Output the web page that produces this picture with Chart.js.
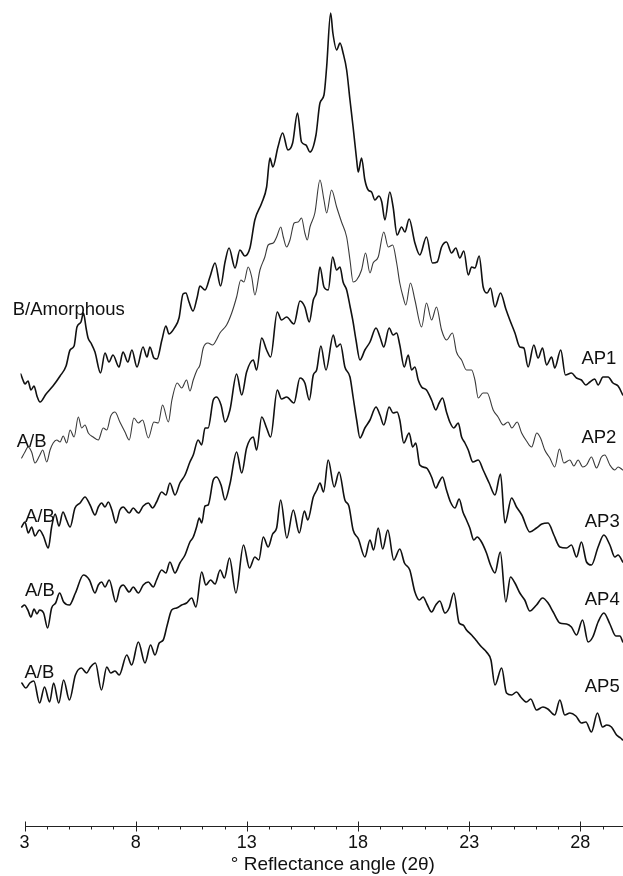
<!DOCTYPE html>
<html>
<head>
<meta charset="utf-8">
<title>XRD patterns AP1-AP5</title>
<script src="https://cdn.jsdelivr.net/npm/chart.js@4.4.0/dist/chart.umd.min.js"></script>
<style>
  html, body { margin: 0; padding: 0; background: #fff; }
  canvas { display: block; }
</style>
</head>
<body>
<canvas id="xrd" width="623" height="876"></canvas>
<script>
// x = reflectance angle (2 theta, degrees), y = intensity (arbitrary units, traces stacked)
const ap1Angle = [2.83,2.93,3.02,3.16,3.29,3.43,3.56,3.70,3.97,4.28,4.60,4.87,5.05,5.23,5.36,5.54,5.65,5.77,5.86,5.99,6.17,6.42,6.62,6.80,6.98,7.25,7.43,7.65,7.83,8.06,8.33,8.51,8.64,8.82,8.96,9.18,9.36,9.50,9.77,9.95,10.13,10.26,10.40,10.58,10.76,10.89,11.12,11.34,11.57,11.82,12.02,12.20,12.47,12.69,12.91,13.14,13.36,13.67,13.89,14.04,14.17,14.40,14.61,14.85,15.06,15.28,15.46,15.66,15.84,16.11,16.29,16.47,16.59,16.77,16.87,17.04,17.19,17.33,17.49,17.64,17.78,17.94,18.01,18.16,18.31,18.46,18.61,18.76,18.94,19.07,19.21,19.43,19.58,19.76,19.96,20.11,20.30,20.56,20.78,21.08,21.35,21.56,21.76,21.98,22.21,22.40,22.58,22.76,22.96,23.11,23.26,23.45,23.63,23.81,23.96,24.16,24.41,24.65,24.83,25.06,25.28,25.46,25.65,25.91,26.10,26.30,26.48,26.71,26.85,27.12,27.33,27.60,27.83,28.05,28.25,28.43,28.65,28.80,29.02,29.25,29.47,29.70,29.91];
const ap1Int = [452,446,442,445,436,440,430,424,432,440,450,460,476,480,499,504,513,498,488,483,474,453,473,464,471,459,474,464,476,459,479,469,479,468,467,486,500,492,499,508,532,533,524,515,528,540,536,549,563,540,564,578,558,576,570,578,606,623,639,668,659,679,693,676,683,713,684,681,674,691,723,731,759,813,793,776,783,773,756,726,699,666,654,668,646,636,634,626,630,624,606,634,619,591,599,594,607,583,571,589,563,564,579,584,573,578,568,575,551,559,558,570,539,533,538,519,533,517,506,493,479,478,459,481,468,478,461,469,458,476,451,453,448,446,441,444,447,441,449,449,443,440,431];

const ap2Angle = [2.87,3.02,3.16,3.32,3.47,3.67,3.82,4.00,4.15,4.29,4.45,4.60,4.74,4.90,5.05,5.23,5.42,5.57,5.72,5.87,6.09,6.32,6.54,6.70,6.88,7.07,7.29,7.52,7.71,7.92,8.12,8.31,8.57,8.82,9.02,9.21,9.47,9.63,9.87,10.07,10.29,10.44,10.59,10.76,10.89,11.04,11.25,11.46,11.63,11.79,12.09,12.32,12.54,12.73,12.87,13.06,13.22,13.36,13.59,13.81,13.96,14.19,14.34,14.53,14.64,14.79,14.94,15.13,15.31,15.46,15.61,15.72,15.84,16.06,16.29,16.47,16.59,16.81,17.04,17.26,17.49,17.64,17.78,17.94,18.16,18.34,18.54,18.68,18.91,19.16,19.36,19.56,19.74,19.88,20.03,20.15,20.36,20.56,20.86,21.08,21.31,21.53,21.76,21.98,22.25,22.43,22.66,22.88,23.11,23.26,23.41,23.62,23.81,24.08,24.30,24.53,24.75,24.92,25.16,25.36,25.58,25.81,26.04,26.21,26.40,26.63,26.85,27.06,27.26,27.53,27.71,27.90,28.11,28.28,28.50,28.73,28.95,29.10,29.33,29.55,29.70,29.91];
const ap2Int = [368,374,379,374,363,370,376,364,376,383,386,384,390,383,396,389,409,398,401,393,389,386,398,396,410,414,404,394,386,408,403,406,388,404,403,421,404,426,443,438,446,435,446,456,461,478,483,481,486,493,501,513,529,546,544,559,549,531,556,569,581,583,589,599,589,579,586,603,604,608,593,586,599,613,646,626,613,636,619,604,589,566,544,546,556,573,553,563,569,594,579,581,563,543,529,521,543,526,499,523,506,519,496,486,493,474,466,456,456,446,428,433,433,416,409,401,404,398,404,393,385,379,393,388,376,368,359,377,363,366,360,366,359,361,369,358,369,371,361,356,359,356];

const ap3Angle = [2.87,3.02,3.17,3.32,3.47,3.67,3.85,4.07,4.22,4.38,4.55,4.73,4.89,5.05,5.27,5.50,5.72,5.95,6.17,6.32,6.47,6.62,6.77,6.93,7.11,7.29,7.44,7.71,7.89,8.12,8.34,8.57,8.76,8.94,9.17,9.36,9.54,9.77,9.99,10.22,10.44,10.59,10.81,10.97,11.12,11.26,11.49,11.64,11.84,12.02,12.24,12.54,12.77,12.99,13.29,13.44,13.67,13.89,14.07,14.37,14.56,14.79,15.12,15.39,15.61,15.81,15.99,16.14,16.29,16.47,16.66,16.86,17.04,17.19,17.33,17.49,17.64,17.78,17.91,18.09,18.31,18.54,18.81,18.99,19.16,19.40,19.58,19.74,19.88,20.08,20.26,20.41,20.56,20.71,20.86,21.08,21.31,21.50,21.65,21.80,21.98,22.13,22.31,22.51,22.66,22.81,22.96,23.17,23.41,23.63,23.90,24.16,24.41,24.61,24.91,25.13,25.37,25.73,26.03,26.27,26.55,26.81,27.08,27.38,27.60,27.83,28.05,28.28,28.50,28.80,29.06,29.33,29.55,29.70,29.91];
const ap3Int = [299,304,293,299,290,296,290,278,299,312,300,314,306,299,318,323,329,321,311,319,323,319,324,316,303,316,319,313,318,313,320,323,318,324,334,331,343,331,343,351,364,371,386,381,398,398,426,429,421,404,416,452,431,454,466,456,488,476,469,514,506,509,502,525,519,504,526,534,559,539,536,569,556,559,544,536,520,504,486,466,476,484,498,489,479,498,491,493,481,459,471,456,459,446,439,436,426,416,423,428,414,404,398,403,389,383,376,364,366,356,343,331,352,303,328,319,311,294,298,302,303,291,279,278,281,269,284,264,261,279,291,281,269,271,264];

const ap4Angle = [2.88,3.00,3.15,3.29,3.43,3.56,3.68,3.86,4.04,4.22,4.40,4.58,4.76,5.02,5.29,5.65,5.92,6.17,6.32,6.47,6.62,6.81,7.11,7.29,7.44,7.71,7.89,8.12,8.34,8.57,8.79,8.94,9.17,9.36,9.54,9.77,9.99,10.22,10.44,10.59,10.74,10.86,10.97,11.12,11.26,11.49,11.64,11.84,12.02,12.24,12.54,12.77,12.99,13.29,13.44,13.67,13.89,14.07,14.37,14.56,14.79,15.12,15.39,15.61,15.81,15.99,16.14,16.33,16.56,16.89,17.04,17.21,17.41,17.64,17.78,17.94,18.09,18.31,18.54,18.81,18.99,19.16,19.40,19.58,19.76,19.88,20.06,20.30,20.46,20.60,20.78,21.08,21.31,21.50,21.65,21.80,21.98,22.16,22.36,22.55,22.72,22.88,23.03,23.21,23.36,23.53,23.78,23.96,24.16,24.40,24.65,24.86,25.06,25.28,25.50,25.73,26.03,26.30,26.55,26.78,27.08,27.38,27.60,27.83,28.10,28.35,28.56,28.80,29.06,29.33,29.60,29.78,29.91];
const ap4Int = [219,221,216,209,217,212,216,213,198,218,223,233,224,221,233,251,246,233,241,244,239,246,224,238,241,234,239,233,241,244,239,246,256,253,264,253,263,271,284,289,299,308,303,320,321,346,349,341,326,342,374,353,378,389,376,409,398,389,436,427,429,423,448,443,426,451,456,480,456,491,479,482,459,449,429,406,388,398,406,419,411,401,419,413,414,406,383,393,379,383,361,358,349,338,344,349,336,324,318,327,314,306,298,286,289,285,273,261,253,274,224,249,243,233,226,215,221,228,223,214,203,202,199,191,206,184,189,204,213,202,190,190,184];

const ap5Angle = [2.88,3.06,3.24,3.42,3.68,3.90,4.13,4.31,4.54,4.76,5.02,5.29,5.56,5.79,5.97,6.19,6.46,6.70,6.88,7.07,7.26,7.60,7.82,8.12,8.42,8.67,8.87,9.06,9.24,9.42,9.62,9.84,10.07,10.29,10.52,10.71,10.97,11.16,11.37,11.57,11.80,11.99,12.22,12.51,12.85,13.12,13.36,13.54,13.74,13.96,14.16,14.34,14.52,14.80,15.09,15.36,15.59,15.74,15.99,16.15,16.29,16.45,16.66,16.93,17.15,17.41,17.59,17.78,18.02,18.31,18.54,18.70,18.91,19.11,19.34,19.61,19.88,20.09,20.33,20.56,20.76,20.93,21.10,21.31,21.50,21.68,21.91,22.10,22.31,22.55,22.73,22.88,23.11,23.30,23.56,23.78,23.98,24.16,24.46,24.68,24.91,25.13,25.32,25.58,25.77,26.03,26.32,26.54,26.85,27.08,27.30,27.53,27.80,28.05,28.25,28.50,28.77,29.00,29.19,29.40,29.63,29.81,29.91];
const ap5Int = [143,138,143,145,123,139,124,143,123,146,126,151,158,153,159,163,136,159,153,155,151,171,161,184,163,181,171,183,186,201,216,218,221,223,228,219,254,241,246,242,256,248,268,233,281,258,269,266,289,279,292,298,326,288,316,293,315,306,329,336,343,334,366,339,354,326,320,296,287,269,286,276,298,277,296,266,277,263,256,234,226,229,222,214,221,225,213,218,233,203,201,196,191,186,179,174,166,141,158,133,131,134,129,124,127,116,119,117,111,126,111,113,110,103,104,94,113,99,101,99,91,88,86];

const sampleNames = ['AP1', 'AP2', 'AP3', 'AP4', 'AP5'];
const phaseNames = ['B/Amorphous', 'A/B', 'A/B', 'A/B', 'A/B'];
const tickValues = [3,4,5,6,7,8,9,10,11,12,13,14,15,16,17,18,19,20,21,22,23,24,25,26,27,28,29];
const majorTicks = [3, 8, 13, 18, 23, 28];
const xTitle = '\u00b0 Reflectance angle (2\u03b8)';

// label anchors in data units [angle, intensity]
const phaseLabelAt = [[2.47, 516], [2.65, 384], [3.02, 309], [3.02, 235], [3.00, 153]];
const sampleLabelAt = [[28.05, 467], [28.05, 388], [28.20, 304], [28.20, 226], [28.20, 139]];
const titleAt = 16.87;

const FONT = '"Liberation Sans", Arial, Helvetica, sans-serif';

const series = [
  [ap1Angle, ap1Int],
  [ap2Angle, ap2Int],
  [ap3Angle, ap3Int],
  [ap4Angle, ap4Int],
  [ap5Angle, ap5Int]
];

const datasets = series.map(([xs, ys], i) => ({
  label: sampleNames[i],
  data: xs.map((x, j) => ({ x: x, y: ys[j] })),
  borderColor: i === 1 ? '#3a3a3a' : '#111',
  borderWidth: i === 1 ? 1.1 : 1.6,
  pointRadius: 0,
  fill: false
}));

// axis line with long/short ticks, curve labels, axis title
const decorations = {
  id: 'decorations',
  afterDraw(chart) {
    const { ctx, chartArea, scales } = chart;
    const x = scales.x, y = scales.y;
    const base = chartArea.bottom + 0.5;
    ctx.save();
    ctx.strokeStyle = '#222';
    ctx.lineWidth = 1;
    ctx.beginPath();
    ctx.moveTo(Math.round(x.getPixelForValue(tickValues[0])), base);
    ctx.lineTo(chartArea.right, base);
    tickValues.forEach(v => {
      const px = Math.round(x.getPixelForValue(v)) + 0.5;
      const major = majorTicks.includes(v);
      ctx.moveTo(px, base - (major ? 5 : 0));
      ctx.lineTo(px, base + (major ? 5 : 3));
    });
    ctx.stroke();

    ctx.fillStyle = '#111';
    ctx.textBaseline = 'middle';
    ctx.textAlign = 'left';
    ctx.font = '18.5px ' + FONT;
    phaseNames.forEach((t, i) => {
      ctx.fillText(t, x.getPixelForValue(phaseLabelAt[i][0]), y.getPixelForValue(phaseLabelAt[i][1]));
    });
    sampleNames.forEach((t, i) => {
      ctx.fillText(t, x.getPixelForValue(sampleLabelAt[i][0]), y.getPixelForValue(sampleLabelAt[i][1]));
    });

    ctx.textAlign = 'center';
    ctx.font = '19px ' + FONT;
    ctx.fillText(xTitle, x.getPixelForValue(titleAt), chartArea.bottom + 39);
    ctx.restore();
  }
};

new Chart(document.getElementById('xrd'), {
  type: 'line',
  data: { datasets: datasets },
  options: {
    responsive: false,
    animation: false,
    devicePixelRatio: 1,
    layout: { padding: { left: 20.5, right: 0, top: 0, bottom: 0 } },
    elements: { line: { cubicInterpolationMode: 'monotone', borderJoinStyle: 'round', borderCapStyle: 'round' } },
    plugins: { legend: { display: false }, tooltip: { enabled: false } },
    scales: {
      x: {
        type: 'linear',
        min: 2.82,
        max: 29.92,
        afterBuildTicks: s => { s.ticks = tickValues.map(v => ({ value: v })); },
        afterFit: s => { s.height = 50; },
        grid: { display: false, drawTicks: false },
        border: { display: false },
        ticks: {
          autoSkip: false,
          maxRotation: 0,
          padding: 6,
          color: '#111',
          font: { family: FONT, size: 18 },
          callback: v => (majorTicks.includes(v) ? String(v) : '')
        }
      },
      y: { display: false, min: 0, max: 826 }
    }
  },
  plugins: [decorations]
});
</script>
</body>
</html>
